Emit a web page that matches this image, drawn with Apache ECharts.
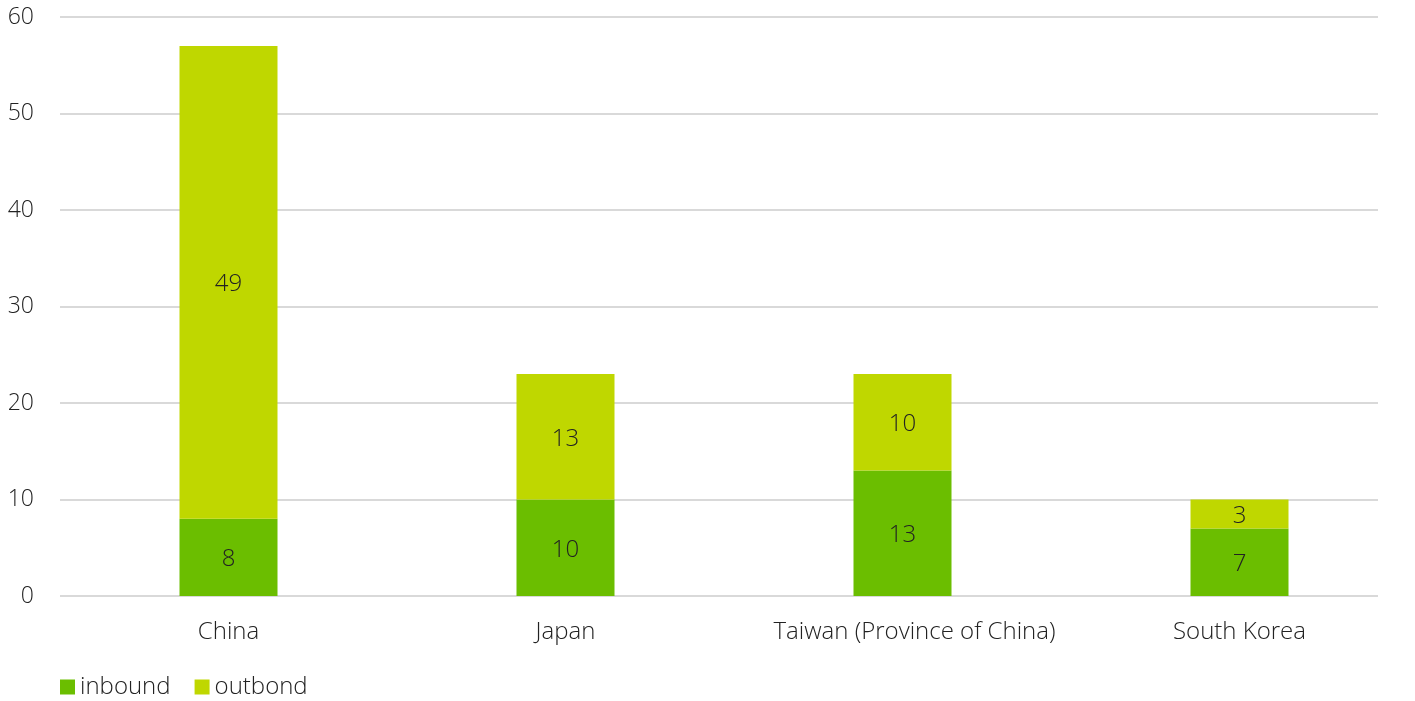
<!DOCTYPE html>
<html><head><meta charset="utf-8">
<script src="https://cdn.jsdelivr.net/npm/echarts@6/dist/echarts.min.js"></script>
<style>html,body{margin:0;padding:0;background:#fff}#c{width:1415px;height:701px}</style>
</head><body><div id="c"></div>
<script>
const categories = ["China", "Japan", "Taiwan (Province of China)", "South Korea"];
const inbound = [8, 10, 13, 7];
const outbound = [49, 13, 10, 3];
const yTicks = [0, 10, 20, 30, 40, 50, 60];

const FONT = "'Open Sans', sans-serif";
const catData = categories.map((c, i) => i === 2 ? { value: c, textStyle: { padding: [0, 0, 0, 24] } } : c);
const chart = echarts.init(document.getElementById('c'));
chart.setOption({
  animation: false,
  textStyle: { fontFamily: FONT, fontWeight: 300 },
  legend: {
    left: 55, top: 670, itemWidth: 15, itemHeight: 15, itemGap: 24,
    icon: 'rect',
    textStyle: { fontSize: 24, color: '#222', fontFamily: FONT, fontWeight: 300 },
    data: ['inbound', 'outbond']
  },
  grid: [
    { left: 60, right: 37, top: 17, height: 579 },
    { left: 60, right: 7, top: 17, height: 579 }
  ],
  xAxis: [
    { gridIndex: 0, type: 'category', data: categories, show: false },
    { gridIndex: 1, type: 'category', data: catData,
      axisLine: { show: false }, axisTick: { show: false },
      axisLabel: { interval: 0, hideOverlap: false, fontSize: 24, color: '#222', margin: 24, fontFamily: FONT, fontWeight: 300 } }
  ],
  yAxis: [
    { gridIndex: 0, type: 'value', min: 0, max: 60, interval: 10,
      axisLine: { show: false }, axisTick: { show: false },
      axisLabel: { fontSize: 23, color: '#222', margin: 26, fontFamily: FONT, fontWeight: 300,
        formatter: v => yTicks.includes(v) ? String(v) : '' },
      splitLine: { lineStyle: { color: '#d9d9d9', width: 2 } } },
    { gridIndex: 1, type: 'value', min: 0, max: 60, interval: 10, show: false }
  ],
  series: [
    { name: 'inbound', type: 'bar', stack: 's', xAxisIndex: 1, yAxisIndex: 1,
      data: inbound, barWidth: 98, itemStyle: { color: '#6BBE00' },
      label: { show: true, position: 'inside', offset: [0, 2], fontSize: 24, color: '#222', fontFamily: FONT, fontWeight: 300 } },
    { name: 'outbond', type: 'bar', stack: 's', xAxisIndex: 1, yAxisIndex: 1,
      data: outbound, barWidth: 98, itemStyle: { color: '#BFD700' },
      label: { show: true, position: 'inside', offset: [0, 2], fontSize: 24, color: '#222', fontFamily: FONT, fontWeight: 300 } }
  ]
});
</script></body></html>
